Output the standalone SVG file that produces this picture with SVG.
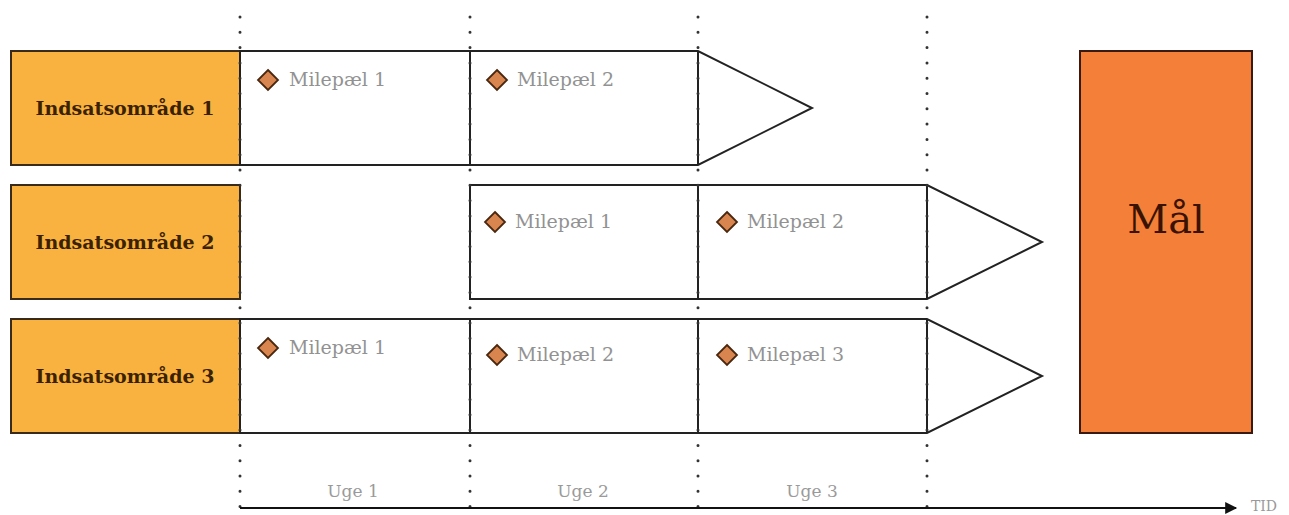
<svg xmlns="http://www.w3.org/2000/svg" width="1289" height="515" viewBox="0 0 1289 515">
<style>
.area{fill:#f9b13f;stroke:#3a2a1a;stroke-width:2}
.areatxt{font-family:"DejaVu Serif",serif;font-weight:bold;font-size:19px;fill:#3a2200;text-anchor:middle}
.bar{fill:#fff;stroke:#222;stroke-width:2;stroke-linejoin:miter}
.sep{stroke:#222;stroke-width:2}
.ms{fill:#d9854f;stroke:#4a2810;stroke-width:1.8}
.mstxt{font-family:"DejaVu Serif",serif;font-size:19px;fill:#929292}
.grid{stroke:#333;stroke-width:3;stroke-linecap:round;stroke-dasharray:0 15.3;fill:none}
.uge{font-family:"DejaVu Serif",serif;font-size:17px;fill:#9a9a9a;text-anchor:middle}
</style>
<defs>
<marker id="ah" viewBox="0 0 10 10" refX="9" refY="5" markerWidth="7" markerHeight="6" orient="auto" markerUnits="strokeWidth">
<path d="M0,0 L10,5 L0,10 z" fill="#111"/>
</marker>
</defs>

<g id="row1">
<rect class="area" x="11" y="51" width="229" height="114"/>
<text class="areatxt" x="125" y="115">Indsatsområde 1</text>
<polygon class="bar" points="240,51 698,51 812,108 698,165 240,165"/>
<line class="sep" x1="470" y1="51" x2="470" y2="165"/>
<line class="sep" x1="698" y1="51" x2="698" y2="165"/>
<path class="ms" d="M268,70 L278,80 L268,90 L258,80 Z"/>
<text class="mstxt" x="289" y="86">Milepæl 1</text>
<path class="ms" d="M497,70 L507,80 L497,90 L487,80 Z"/>
<text class="mstxt" x="517" y="86">Milepæl 2</text>
</g>

<g id="row2">
<rect class="area" x="11" y="185" width="229" height="114"/>
<text class="areatxt" x="125" y="249">Indsatsområde 2</text>
<polygon class="bar" points="470,185 927,185 1042,242 927,299 470,299"/>
<line class="sep" x1="698" y1="185" x2="698" y2="299"/>
<line class="sep" x1="927" y1="185" x2="927" y2="299"/>
<path class="ms" d="M495,212 L505,222 L495,232 L485,222 Z"/>
<text class="mstxt" x="515" y="228">Milepæl 1</text>
<path class="ms" d="M727,212 L737,222 L727,232 L717,222 Z"/>
<text class="mstxt" x="747" y="228">Milepæl 2</text>
</g>

<g id="row3">
<rect class="area" x="11" y="319" width="229" height="114"/>
<text class="areatxt" x="125" y="383">Indsatsområde 3</text>
<polygon class="bar" points="240,319 927,319 1042,376 927,433 240,433"/>
<line class="sep" x1="470" y1="319" x2="470" y2="433"/>
<line class="sep" x1="698" y1="319" x2="698" y2="433"/>
<line class="sep" x1="927" y1="319" x2="927" y2="433"/>
<path class="ms" d="M268,338 L278,348 L268,358 L258,348 Z"/>
<text class="mstxt" x="289" y="354">Milepæl 1</text>
<path class="ms" d="M497,345 L507,355 L497,365 L487,355 Z"/>
<text class="mstxt" x="517" y="361">Milepæl 2</text>
<path class="ms" d="M727,345 L737,355 L727,365 L717,355 Z"/>
<text class="mstxt" x="747" y="361">Milepæl 3</text>
</g>

<g id="goal">
<rect x="1080" y="51" width="172" height="382" fill="#f47f38" stroke="#3a1a10" stroke-width="2"/>
<text x="1166" y="233" font-family="DejaVu Serif,serif" font-size="40" fill="#3a1200" text-anchor="middle">Mål</text>
</g>

<g id="grid">
<line class="grid" x1="240" y1="17" x2="240" y2="508"/>
<line class="grid" x1="470" y1="17" x2="470" y2="508"/>
<line class="grid" x1="698" y1="17" x2="698" y2="508"/>
<line class="grid" x1="927" y1="17" x2="927" y2="508"/>
</g>

<g id="axis">
<line x1="240" y1="508" x2="1236" y2="508" stroke="#111" stroke-width="2" marker-end="url(#ah)"/>
<text class="uge" x="353" y="497">Uge 1</text>
<text class="uge" x="583" y="497">Uge 2</text>
<text class="uge" x="812" y="497">Uge 3</text>
<text x="1251" y="511" font-family="DejaVu Serif,serif" font-size="14" fill="#999">TID</text>
</g>
</svg>
